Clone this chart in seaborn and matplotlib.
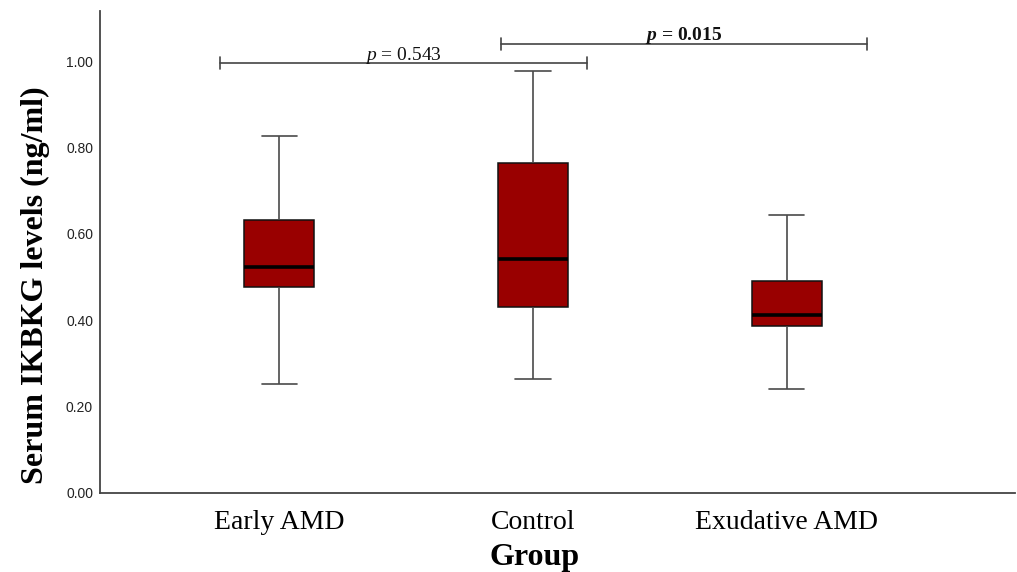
import numpy as np
import pandas as pd
import matplotlib
matplotlib.use("Agg")
import matplotlib.pyplot as plt
import seaborn as sns

# ---- data ----
groups = ["Early AMD", "Control", "Exudative AMD"]
early_amd = [0.252, 0.478, 0.524, 0.632, 0.827]      # min, Q1, median, Q3, max
control = [0.263, 0.431, 0.541, 0.765, 0.977]
exudative_amd = [0.241, 0.386, 0.412, 0.491, 0.643]
y_ticks = [0.0, 0.2, 0.4, 0.6, 0.8, 1.0]
p_values = ["0.543", "0.015"]
p_significant = [False, True]

# ---- layout ----
bracket_pairs = [(0, 1), (1, 2)]
bracket_levels = [0.995, 1.040]
bracket_pad = [(-0.232, 0.213), (-0.127, 0.314)]

df = pd.DataFrame({
    "Group": np.repeat(groups, 5),
    "Value": early_amd + control + exudative_amd,
})

sns.set_style("white")
plt.rcParams["font.family"] = ["Liberation Serif", "DejaVu Serif"]
plt.rcParams["text.color"] = "#000000"
plt.rcParams["axes.labelcolor"] = "#000000"
plt.rcParams["xtick.color"] = "#000000"
plt.rcParams["ytick.color"] = "#000000"
plt.rcParams["mathtext.fontset"] = "custom"
plt.rcParams["mathtext.rm"] = "Liberation Serif"
plt.rcParams["mathtext.it"] = "Liberation Serif:italic"
plt.rcParams["mathtext.bf"] = "Liberation Serif:bold"
plt.rcParams["mathtext.bfit"] = "Liberation Serif:italic:bold"

fig = plt.figure(figsize=(10.17, 5.72), dpi=100)
ax = fig.add_axes([100 / 1017, 79 / 572, 915 / 1017, 482 / 572])

sns.boxplot(
    data=df, x="Group", y="Value", order=groups, ax=ax,
    color="#990000", saturation=1, width=0.276, whis=(0, 100),
    linecolor="#3a3a3a", linewidth=1.1,
    boxprops=dict(edgecolor="#111111", linewidth=1.1),
    medianprops=dict(color="#000000", linewidth=2.6),
    whiskerprops=dict(color="#4a4a4a", linewidth=1.2),
    capprops=dict(color="#4a4a4a", linewidth=1.2),
)

ax.set_xlim(-0.705, 2.898)
ax.set_ylim(0, 1.116)
ax.set_yticks(y_ticks)
ax.set_yticklabels([f"{t:.2f}" for t in y_ticks], fontfamily="Liberation Sans", fontsize=10,
                   color="#222222")
ax.tick_params(axis="y", length=0, pad=5)
ax.tick_params(axis="x", length=0, pad=12, labelsize=20)

for s in ["top", "right"]:
    ax.spines[s].set_visible(False)
for s in ["left", "bottom"]:
    ax.spines[s].set_color("#444444")
    ax.spines[s].set_linewidth(1.3)

ax.set_xlabel("Group", fontsize=23, fontweight="bold")
ax.set_ylabel("Serum IKBKG levels (ng/ml)", fontsize=23, fontweight="bold")
ax.xaxis.set_label_coords(0.475, -0.104)
ax.yaxis.set_label_coords(-0.055, 0.432)

# significance brackets
tick_h = 0.014
for (a, b), lvl, (pa, pb), pv, sig in zip(bracket_pairs, bracket_levels, bracket_pad, p_values, p_significant):
    x0, x1 = a + pa, b + pb
    ax.plot([x0, x1], [lvl, lvl], color="#444444", lw=1.2, clip_on=False)
    ax.plot([x0, x0], [lvl - tick_h, lvl + tick_h], color="#444444", lw=1.2, clip_on=False)
    ax.plot([x1, x1], [lvl - tick_h, lvl + tick_h], color="#444444", lw=1.2, clip_on=False)
    if sig:
        label = r"$\mathbfit{p}$ = " + pv
        weight = "bold"
    else:
        label = r"$p$ = " + pv
        weight = "normal"
    ax.text((x0 + x1) / 2, lvl + 0.008, label, ha="center", va="baseline",
            fontsize=14, fontweight=weight, color="#111111")

fig.savefig("out.png", dpi=100)
